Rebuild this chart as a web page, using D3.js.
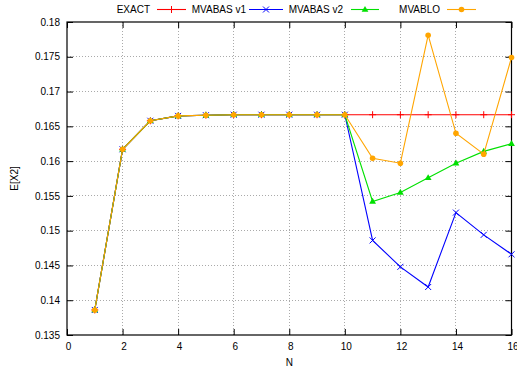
<!DOCTYPE html>
<html><head><meta charset="utf-8">
<script src="https://cdn.jsdelivr.net/npm/d3@7"></script>
<style>body{margin:0;background:#fff}svg{display:block}text{font-family:"Liberation Sans",Arial,sans-serif;font-size:10px;fill:#000}</style>
</head><body>
<script>
const N = [1,2,3,4,5,6,7,8,9,10,11,12,13,14,15,16];
const exact   = [0.1386,0.1617,0.1658,0.1665,0.1666,0.16667,0.16667,0.16667,0.16667,0.16667,0.16667,0.16667,0.16667,0.16667,0.16667,0.16667];
const mvabasV1 = [0.1386,0.1617,0.1658,0.1665,0.1666,0.16667,0.16667,0.16667,0.16667,0.16667,0.1486,0.1448,0.1419,0.1526,0.1494,0.1466];
const mvabasV2 = [0.1386,0.1617,0.1658,0.1665,0.1666,0.16667,0.16667,0.16667,0.16667,0.16667,0.1542,0.1555,0.1576,0.1597,0.1614,0.1625];
const mvablo   = [0.1386,0.1617,0.1658,0.1665,0.1666,0.16667,0.16667,0.16667,0.16667,0.16667,0.1604,0.1597,0.1781,0.1640,0.1610,0.1749];
const xTicks = [0,2,4,6,8,10,12,14,16];
const yTicks = [0.135,0.14,0.145,0.15,0.155,0.16,0.165,0.17,0.175,0.18];
const seriesNames = ["EXACT","MVABAS v1","MVABAS v2","MVABLO"];

const W=517,H=373;
const L=67,R=511.5,T=22,B=335;
const svg=d3.select("body").append("svg").attr("width",W).attr("height",H);
const x=d3.scaleLinear().domain([0,16]).range([L,R]);
const y=d3.scaleLinear().domain([0.135,0.18]).range([B,T]);

// grid
const g=svg.append("g");
xTicks.slice(1,-1).forEach(v=>g.append("line").attr("x1",x(v)).attr("x2",x(v)).attr("y1",T).attr("y2",B)
  .attr("stroke","#aaa").attr("stroke-width",1).attr("stroke-dasharray","1,2").attr("shape-rendering","crispEdges"));
yTicks.slice(1,-1).forEach(v=>g.append("line").attr("x1",L).attr("x2",R).attr("y1",y(v)).attr("y2",y(v))
  .attr("stroke","#aaa").attr("stroke-width",1).attr("stroke-dasharray","1,2").attr("shape-rendering","crispEdges"));

// axes
const ax=svg.append("g").attr("transform",`translate(0,${B})`).call(d3.axisBottom(x).tickValues(xTicks).tickSize(-6).tickPadding(8).tickFormat(d3.format("d")));
const ay=svg.append("g").attr("transform",`translate(${L},0)`).call(d3.axisLeft(y).tickValues(yTicks).tickSize(-6).tickPadding(7).tickFormat(d=>String(+d.toFixed(3))));
const axT=svg.append("g").attr("transform",`translate(0,${T})`).call(d3.axisTop(x).tickValues(xTicks).tickSize(-6).tickFormat(""));
const ayR=svg.append("g").attr("transform",`translate(${R},0)`).call(d3.axisRight(y).tickValues(yTicks).tickSize(-6).tickFormat(""));
[ax,ay,axT,ayR].forEach(a=>{a.select(".domain").remove();a.selectAll("text").style("font-family","Liberation Sans, Arial, sans-serif").style("font-size","10px");a.selectAll("line").attr("stroke","#000");});
ax.selectAll("text").attr("dx","1");
svg.append("rect").attr("x",L).attr("y",T).attr("width",R-L).attr("height",B-T).attr("fill","none").attr("stroke","#000").attr("stroke-width",1.2);

svg.append("text").attr("x",(L+R)/2).attr("y",366).attr("text-anchor","middle").text("N");
svg.append("text").attr("transform",`translate(18,${(T+B)/2}) rotate(-90)`).attr("text-anchor","middle").text("E[X2]");

const colors=["#ff0000","#0000ff","#00e000","#ffa500"];
const data=[exact,mvabasV1,mvabasV2,mvablo];
const line=d3.line().x((d,i)=>x(N[i])).y(d=>y(d));
function marker(sel,k,cx,cy){
  const c=colors[k];
  if(k===0){sel.append("path").attr("d",`M${cx-3.5},${cy}H${cx+3.5}M${cx},${cy-3.5}V${cy+3.5}`).attr("stroke",c).attr("stroke-width",1);}
  else if(k===1){sel.append("path").attr("d",`M${cx-3},${cy-3}L${cx+3},${cy+3}M${cx-3},${cy+3}L${cx+3},${cy-3}`).attr("stroke",c).attr("stroke-width",1);}
  else if(k===2){sel.append("path").attr("d",`M${cx},${cy-3.6}L${cx+3.4},${cy+2.3}L${cx-3.4},${cy+2.3}Z`).attr("fill",c);}
  else {sel.append("circle").attr("cx",cx).attr("cy",cy).attr("r",2.8).attr("fill",c);}
}
data.forEach((s,k)=>{
  const gg=svg.append("g");
  gg.append("path").datum(s).attr("d",line).attr("fill","none").attr("stroke",colors[k]).attr("stroke-width",1.1);
  s.forEach((v,i)=>marker(gg,k,x(N[i]),y(v)));
});

// legend
const leg=[{tx:150,l1:157,l2:186},{tx:246,l1:249,l2:283},{tx:343,l1:351,l2:379},{tx:440,l1:447,l2:476}];
leg.forEach((p,k)=>{
  svg.append("text").attr("x",p.tx).attr("y",13).attr("text-anchor","end").text(seriesNames[k]);
  svg.append("line").attr("x1",p.l1).attr("x2",p.l2).attr("y1",9.5).attr("y2",9.5).attr("stroke",colors[k]).attr("stroke-width",1.1);
  marker(svg,k,(p.l1+p.l2)/2,9.5);
});
</script>
</body></html>
